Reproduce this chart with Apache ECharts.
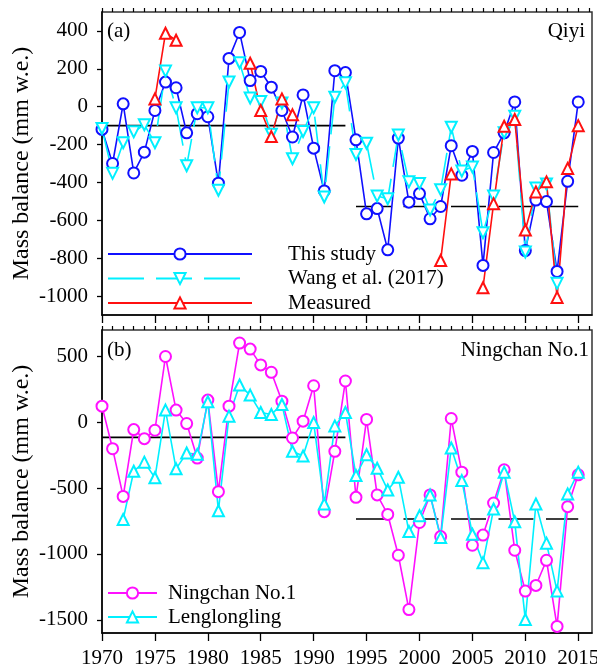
<!DOCTYPE html>
<html>
<head>
<meta charset="utf-8">
<script src="https://cdn.jsdelivr.net/npm/echarts@6/dist/echarts.min.js"></script>
<style>
  html, body { margin: 0; padding: 0; background: #fff; }
  #chart { width: 597px; height: 672px; }
</style>
</head>
<body>
<div id="chart"></div>
<script>
// Annual glacier mass balance (mm w.e.), 1970-2015
const years = [1970,1971,1972,1973,1974,1975,1976,1977,1978,1979,
               1980,1981,1982,1983,1984,1985,1986,1987,1988,1989,
               1990,1991,1992,1993,1994,1995,1996,1997,1998,1999,
               2000,2001,2002,2003,2004,2005,2006,2007,2008,2009,
               2010,2011,2012,2013,2014,2015];

// (a) Qiyi Glacier
const qiyiThisStudy = [-120,-300,15,-350,-240,-20,130,100,-138,-37,
                       -53,-404,255,392,138,186,103,-20,-160,62,
                       -219,-445,190,180,-175,-566,-538,-756,-166,-504,
                       -459,-592,-527,-206,-362,-236,-838,-242,-138,25,
                       -760,-493,-501,-870,-394,25];
const qiyiWang = [-115,-352,-190,-133,-96,-190,188,-6,-312,-6,
                  -6,-441,130,232,46,28,-145,20,-275,-131,
                  -6,-477,50,126,-252,-193,-472,-486,-149,-397,
                  -405,-545,-438,-108,-340,-319,-666,-472,-138,-50,
                  -767,-430,-408,-933,null,null];
const qiyiMeasured = [null,null,null,null,null,41,388,351,null,null,
                      null,null,null,null,229,-20,-158,41,-43,null,
                      null,null,null,null,null,null,null,null,null,null,
                      null,null,-812,-355,null,null,-956,-512,-103,-68,
                      -651,-450,-397,-1007,-326,-100];

// (b) Ningchan No.1 and Lenglongling glaciers
const ningchan = [122,-201,-563,-56,-125,-61,499,92,-10,-272,
                  168,-527,122,601,555,435,379,160,-120,8,
                  277,-679,-221,313,-570,21,-552,-700,-1010,-1422,
                  -761,-552,-868,28,-379,-934,-857,-613,-361,-972,
                  -1282,-1239,-1048,-1550,-641,-399];
const lenglongling = [null,null,-738,-372,-303,-422,92,-354,-234,-244,
                      155,-672,46,282,206,74,59,135,-221,-257,
                      -2,-621,-28,74,-405,-247,-349,-514,-418,-830,
                      -710,-552,-876,-196,-443,-850,-1066,-659,-379,-756,
                      -1498,-621,-918,-1282,-544,-379];

// Period means: [start year, end year, mean]
const qiyiMeans = [[1970, 1993, -100], [1994, 2015, -527]];
const ningchanMeans = [[1970, 1993, -115], [1994, 2015, -735]];

// Axis ticks and labels
const yearLabels = [1970,1975,1980,1985,1990,1995,2000,2005,2010,2015];
const yearTicks = [1970,1971,1972,1973,1974,1975,1976,1977,1978,1979,
                   1980,1981,1982,1983,1984,1985,1986,1987,1988,1989,
                   1990,1991,1992,1993,1994,1995,1996,1997,1998,1999,
                   2000,2001,2002,2003,2004,2005,2006,2007,2008,2009,
                   2010,2011,2012,2013,2014,2015,2016];
const qiyiTicks = [-1000,-800,-600,-400,-200,0,200,400];
const ningchanTicks = [-1500,-1000,-500,0,500];

const SERIF = "'Liberation Serif','Times New Roman',serif";
const plain = v => String(v);
const pairs = vals => years.map((y, i) => [y, vals[i] == null ? '-' : vals[i]]);

function meanSeries(periods, gi) {
  return periods.map((p, k) => ({
    type: 'line', xAxisIndex: gi * 2, yAxisIndex: gi,
    data: [[p[0], p[2]], [p[1], p[2]]],
    symbol: 'none', silent: true, z: 1,
    lineStyle: { color: '#000', width: 1.6, type: k === 0 ? 'solid' : [35, 12.5] }
  }));
}

function dataSeries(name, vals, gi, color, symbol, rotate, dash) {
  return {
    name, type: 'line', xAxisIndex: gi * 2, yAxisIndex: gi,
    data: pairs(vals), connectNulls: false,
    symbol, symbolSize: 11, symbolRotate: rotate, z: 3,
    lineStyle: { color, width: 1.6, type: dash || 'solid' },
    itemStyle: { color, borderColor: color, borderWidth: 1.5 }
  };
}

function xAxes(gi, showLabels) {
  return [{
    type: 'value', gridIndex: gi, min: 1970, max: 2016.3,
    splitLine: { show: false },
    axisLine: { onZero: false, lineStyle: { color: '#000', width: 1.5 } },
    axisTick: { customValues: yearLabels, length: 8, lineStyle: { color: '#000', width: 1.3 } },
    axisLabel: { show: showLabels, customValues: yearLabels, formatter: plain, margin: 15,
                 fontFamily: SERIF, fontSize: 21, color: '#000' }
  }, {
    type: 'value', gridIndex: gi, min: 1970, max: 2016.3,
    splitLine: { show: false },
    axisLine: { show: false, onZero: false },
    axisTick: { customValues: yearTicks, length: 4, lineStyle: { color: '#000', width: 1.2 } },
    axisLabel: { show: false }
  }];
}

function yAxis(gi, min, max, ticks) {
  return {
    type: 'value', gridIndex: gi, min, max,
    name: 'Mass balance (mm w.e.)', nameLocation: 'middle', nameGap: 68, nameMoveOverlap: false,
    nameTextStyle: { fontFamily: SERIF, fontSize: 24, color: '#000' },
    splitLine: { show: false },
    axisLine: { show: true, onZero: false, lineStyle: { color: '#000', width: 1.5 } },
    axisTick: { show: true, customValues: ticks, length: 5, lineStyle: { color: '#000', width: 1.3 } },
    axisLabel: { customValues: ticks, formatter: plain, margin: 14, fontFamily: SERIF, fontSize: 21, color: '#000' }
  };
}

const legendText = { fontFamily: SERIF, fontSize: 21, color: '#000', lineHeight: 21 };
const titleText = { fontFamily: SERIF, fontSize: 21, fontWeight: 'normal', color: '#000' };

const option = {
  animation: false,
  backgroundColor: '#fff',
  title: [
    { text: '(a)', left: 107, top: 21, padding: 0, textStyle: titleText },
    { text: 'Qiyi', right: 12, top: 21, padding: 0, textStyle: titleText },
    { text: '(b)', left: 107, top: 340, padding: 0, textStyle: titleText },
    { text: 'Ningchan No.1', right: 8, top: 340, padding: 0, textStyle: titleText }
  ],
  legend: [
    { data: ['This study', 'Wang et al. (2017)', 'Measured'], orient: 'vertical',
      left: 107, top: 243.5, padding: 0, itemWidth: 144, itemHeight: 14, itemGap: 3.5,
      selectedMode: false, textStyle: Object.assign({ padding: [0, 0, 0, 31] }, legendText) },
    { data: ['Ningchan No.1', 'Lenglongling'], orient: 'vertical',
      left: 107, top: 582.5, padding: 0, itemWidth: 49, itemHeight: 14, itemGap: 3,
      selectedMode: false, textStyle: Object.assign({ padding: [0, 0, 0, 6] }, legendText) }
  ],
  grid: [
    { left: 102, top: 12, width: 490, height: 303, show: true, borderColor: '#333', borderWidth: 1.5,
      containLabel: false, outerBoundsMode: 'none' },
    { left: 102, top: 330, width: 490, height: 303, show: true, borderColor: '#333', borderWidth: 1.5,
      containLabel: false, outerBoundsMode: 'none' }
  ],
  xAxis: [...xAxes(0, false), ...xAxes(1, true)],
  yAxis: [yAxis(0, -1100, 500, qiyiTicks), yAxis(1, -1600, 700, ningchanTicks)],
  series: [
    ...meanSeries(qiyiMeans, 0),
    dataSeries('This study', qiyiThisStudy, 0, '#1010ff', 'emptyCircle', 0),
    dataSeries('Wang et al. (2017)', qiyiWang, 0, '#00f0ff', 'emptyTriangle', 180, [36, 12]),
    dataSeries('Measured', qiyiMeasured, 0, '#ff1010', 'emptyTriangle', 0),
    ...meanSeries(ningchanMeans, 1),
    dataSeries('Ningchan No.1', ningchan, 1, '#ff10ff', 'emptyCircle', 0),
    dataSeries('Lenglongling', lenglongling, 1, '#00f0ff', 'emptyTriangle', 0)
  ]
};

const chart = echarts.init(document.getElementById('chart'), null, { renderer: 'canvas' });
chart.setOption(option);
</script>
</body>
</html>
